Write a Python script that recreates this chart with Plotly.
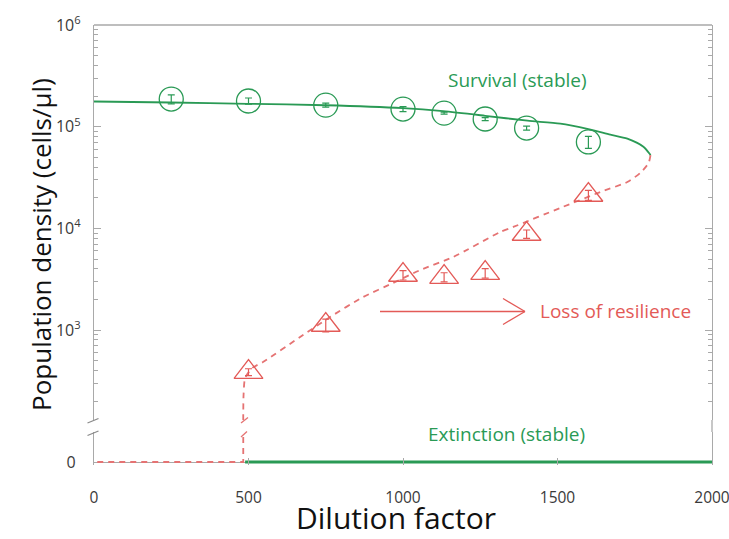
import plotly.graph_objects as go

# ---- measured data -------------------------------------------------------
dilution = [250, 500, 750, 1000, 1133, 1266, 1400, 1600]
survival_density = [187000, 179000, 163000, 149000, 136000, 119000, 97000, 70800]
survival_err = [19000, 12500, 7500, 8500, 3000, 4000, 4500, 9500]

decline_dilution = [500, 750, 1000, 1133, 1266, 1400, 1600]
decline_density = [387, 1122, 3480, 3325, 3640, 8810, 21300]
decline_err = [30, 160, 370, 340, 390, 830, 2400]

# ---- model branches --------------------------------------------------------
stable_x = [0, 249, 499, 748, 1000, 1130, 1266, 1403, 1509, 1600, 1671, 1726, 1778, 1798, 1801]
stable_y = [177000, 173000, 168000, 162500, 152000, 142000, 128000, 114500,
            107000, 94400, 83400, 76200, 63500, 54200, 52500]

unstable_x = [1801, 1795, 1768, 1726, 1639, 1509, 1357, 1315, 1163, 1056, 968, 871,
              764, 667, 547, 512, 489, 484, 483, 483]
unstable_y = [52500, 44000, 35100, 28600, 22800, 15900, 10330, 9230, 5240, 3900, 2905,
              2115, 1345, 855, 485, 424, 338, 230, 150, 120]

collapse_threshold = 483     # unstable branch meets zero
extinction_start = 489       # extinction stable from here on
x_max = 2000

x_ticks = [0, 500, 1000, 1500, 2000]
y_decades = [1e3, 1e4, 1e5, 1e6]
y_decade_labels = ["10<sup>3</sup>", "10<sup>4</sup>", "10<sup>5</sup>", "10<sup>6</sup>"]

GREEN = "#2a9a55"
RED = "#e35a57"
RED_DASH = "#e57373"
AXIS = "#a9a9a9"
FONT = "Open Sans"

minor_vals = [m * 10 ** d for d in range(2, 6) for m in range(2, 10)]

fig = go.Figure()

# stable survival branch
fig.add_trace(go.Scatter(
    x=stable_x, y=stable_y, mode="lines", xaxis="x", yaxis="y",
    line=dict(color=GREEN, width=1.8, shape="spline", smoothing=0.7),
    hoverinfo="skip"))

# unstable branch (dashed)
fig.add_trace(go.Scatter(
    x=unstable_x, y=unstable_y, mode="lines", xaxis="x", yaxis="y",
    line=dict(color=RED_DASH, width=1.8, dash="6px,5px", shape="spline", smoothing=0.6),
    hoverinfo="skip"))

# surviving populations
fig.add_trace(go.Scatter(
    x=dilution, y=survival_density, mode="markers", xaxis="x", yaxis="y",
    marker=dict(symbol="circle-open", size=24, color=GREEN, line=dict(width=1.3, color=GREEN)),
    error_y=dict(type="data", array=survival_err, color=GREEN, thickness=1.2, width=3.5)))

# populations heading to collapse
fig.add_trace(go.Scatter(
    x=decline_dilution, y=decline_density, mode="markers", xaxis="x", yaxis="y",
    marker=dict(symbol="triangle-up-open", size=25, color=RED, line=dict(width=1.3, color=RED)),
    error_y=dict(type="data", array=decline_err, color=RED, thickness=1.2, width=3.5)))

# zero level: extinction (stable) and the unstable branch reaching zero
fig.add_trace(go.Scatter(
    x=[collapse_threshold, collapse_threshold, 0], y=[1.2, 0, 0], mode="lines",
    xaxis="x", yaxis="y2",
    line=dict(color=RED_DASH, width=1.8, dash="6px,5px"), hoverinfo="skip"))
fig.add_trace(go.Scatter(
    x=[extinction_start, x_max], y=[0, 0], mode="lines", xaxis="x", yaxis="y2",
    line=dict(color=GREEN, width=3), hoverinfo="skip"))

# ---- frame, break marks and arrow -------------------------------------------
def px_x(p):
    return (p - 94) / 618.0

def px_y(p):
    return (465 - p) / 440.0

shapes = [
    dict(type="line", xref="paper", yref="paper", x0=0, x1=1, y0=1, y1=1,
         line=dict(color=AXIS, width=1.3)),
    dict(type="line", xref="paper", yref="paper", x0=1, x1=1, y0=px_y(432), y1=px_y(420),
         line=dict(color=AXIS, width=1.3)),
]
for (a, b, c, d) in [(87.5, 423, 98.5, 418.5), (87.5, 435.5, 98.5, 431)]:
    shapes.append(dict(type="line", xref="paper", yref="paper",
                       x0=px_x(a), y0=px_y(b), x1=px_x(c), y1=px_y(d),
                       line=dict(color="#8a8a8a", width=1.3)))
for (a, b, c, d) in [(241, 423, 248, 417.5), (241, 437, 247, 431.5)]:
    shapes.append(dict(type="line", xref="paper", yref="paper",
                       x0=px_x(a), y0=px_y(b), x1=px_x(c), y1=px_y(d),
                       line=dict(color=RED_DASH, width=1.3)))

# "loss of resilience" arrow with open head
ay = px_y(311.5)
shapes += [
    dict(type="line", xref="paper", yref="paper", x0=px_x(380), x1=px_x(525), y0=ay, y1=ay,
         line=dict(color=RED, width=1.3)),
    dict(type="line", xref="paper", yref="paper", x0=px_x(503), x1=px_x(525),
         y0=px_y(298.5), y1=ay, line=dict(color=RED, width=1.3)),
    dict(type="line", xref="paper", yref="paper", x0=px_x(503), x1=px_x(525),
         y0=px_y(324.5), y1=ay, line=dict(color=RED, width=1.3)),
]


def label(text, px, py, size, color, angle=0):
    return dict(text=text, xref="paper", yref="paper", x=px_x(px), y=px_y(py),
                xanchor="center", yanchor="middle", textangle=angle,
                showarrow=False, font=dict(family=FONT, size=size, color=color))


annotations = [
    label("Survival (stable)", 517, 80, 19, GREEN),
    label("Loss of resilience", 615, 311, 19, RED),
    label("Extinction (stable)", 506, 434, 19, GREEN),
    label("Dilution factor", 396, 517.5, 30, "#111111"),
    label("Population density (cells/µl)", 41, 245, 26, "#111111", angle=-90),
]

fig.update_layout(
    width=729, height=539,
    margin=dict(l=94, r=17, t=25, b=74),
    paper_bgcolor="white", plot_bgcolor="white",
    font=dict(family=FONT, color="#3a3a3a"),
    showlegend=False,
    shapes=shapes, annotations=annotations,
    xaxis=dict(range=[0, x_max], anchor="y2", showline=False, showgrid=False, zeroline=False,
               automargin=False,
               tickvals=x_ticks, ticks="inside", ticklen=7, tickcolor=AXIS, tickwidth=1.2,
               ticklabelstandoff=21, ticklabeloverflow="allow",
               tickfont=dict(family=FONT, size=15.5, color="#3a3a3a")),
    yaxis=dict(type="log", range=[2.116, 6], domain=[px_y(420), 1], anchor="x",
               automargin=False,
               showline=True, linecolor=AXIS, linewidth=1.3, mirror="ticks",
               showgrid=False, zeroline=False,
               tickvals=y_decades, ticktext=y_decade_labels,
               ticks="inside", ticklen=7, tickcolor=AXIS, tickwidth=1.2,
               ticklabelstandoff=9, tickfont=dict(family=FONT, size=16, color="#3a3a3a"),
               minor=dict(tickvals=minor_vals, ticks="inside", ticklen=4,
                          tickcolor=AXIS, tickwidth=1, showgrid=False)),
    yaxis2=dict(range=[-0.1, 1], domain=[0, px_y(432)], anchor="x",
                automargin=False,
                showline=True, linecolor=AXIS, linewidth=1.3, mirror=True,
                showgrid=False, zeroline=True, zerolinecolor=AXIS, zerolinewidth=1,
                tickvals=[0], ticktext=["0"], ticks="",
                ticklabelstandoff=14, tickfont=dict(family=FONT, size=16, color="#3a3a3a")),
)

fig.write_html("out.html")
